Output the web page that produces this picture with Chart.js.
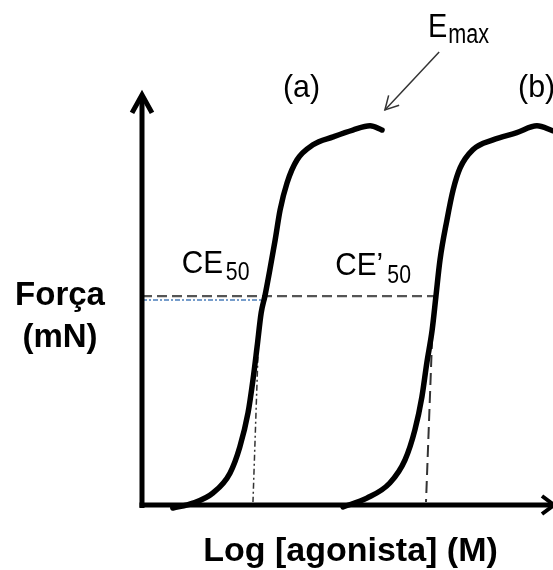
<!DOCTYPE html>
<html>
<head>
<meta charset="utf-8">
<script src="https://cdn.jsdelivr.net/npm/chart.js@4/dist/chart.umd.min.js"></script>
<style>
  html, body { margin: 0; padding: 0; background: #fff; }
  #wrap { width: 553px; height: 570px; }
</style>
</head>
<body>
<div id="wrap"><canvas id="c" width="553" height="570"></canvas></div>
<script>
// Concentration–response curves: force vs log agonist concentration.
// x = log [agonista] (arbitrary units), y = força (% of Emax).

// Curve (a): agonist alone
const curveA_x = [0.75, 1.24, 1.73, 2.14, 2.38, 2.58, 2.70, 2.80, 2.90, 2.99, 3.11, 3.24, 3.36, 3.53, 3.77, 4.16, 4.65, 5.13, 5.55, 5.84];
const curveA_y = [-0.8, 0.5, 3.2, 8.4, 15.3, 24.3, 33.0, 41.7, 50.7, 55.1, 62.0, 69.9, 77.8, 85.0, 91.0, 95.0, 97.1, 98.9, 100.0, 98.9];

// Curve (b): shifted to the right (higher concentration for the same effect)
const curveB_x = [4.89, 5.47, 6.03, 6.40, 6.64, 6.81, 6.93, 7.06, 7.15, 7.25, 7.42, 7.57, 7.74, 8.05, 8.54, 9.12, 9.61, 10.0];
const curveB_y = [-0.5, 1.8, 5.8, 11.9, 19.8, 28.5, 37.5, 46.2, 54.9, 64.6, 75.2, 83.1, 88.9, 93.7, 96.3, 98.2, 100.0, 98.7];

// Half-maximal response level and the two CE50 positions
const ce50Level = [55.1, 54.1];          // gray dashed level, short blue level
const ce50LineEnd = [7.18, 2.92];        // x where each level line stops
const ce50A_x = [2.82, 2.70];            // dash-dot drop line under (a): top, bottom
const ce50A_y = [39.1, 0.8];
const ce50B_x = [7.06, 6.91];            // dashed drop line under (b): top, bottom
const ce50B_y = [44.3, 0.8];

// Emax pointer (from label toward the plateau of curve a)
const emaxArrow_x = [7.23, 5.91];
const emaxArrow_y = [119.5, 104.2];

const X_MIN = 0, X_MAX = 10, Y_MIN = 0, Y_MAX = 133.2;
const Y_AXIS_TOP = 108.7;

const pts = (xs, ys) => xs.map((x, i) => ({ x: x, y: ys[i] }));

const datasets = [
  { data: pts(curveA_x, curveA_y), borderColor: '#000', borderWidth: 5.5, cubicInterpolationMode: 'monotone', borderCapStyle: 'round', borderJoinStyle: 'round' },
  { data: pts(curveB_x, curveB_y), borderColor: '#000', borderWidth: 5.5, cubicInterpolationMode: 'monotone', borderCapStyle: 'round', borderJoinStyle: 'round' },
  { data: [{ x: X_MIN, y: ce50Level[0] }, { x: ce50LineEnd[0], y: ce50Level[0] }], borderColor: '#555', borderWidth: 2.2, borderDash: [10, 5] },
  { data: [{ x: X_MIN, y: ce50Level[1] }, { x: ce50LineEnd[1], y: ce50Level[1] }], borderColor: '#4a7ebb', borderWidth: 1.5, borderDash: [5, 2, 2, 2] },
  { data: pts(ce50A_x, ce50A_y), borderColor: '#333', borderWidth: 1.5, borderDash: [6, 3, 2, 3] },
  { data: pts(ce50B_x, ce50B_y), borderColor: '#333', borderWidth: 2, borderDash: [12, 6] },
  { data: pts(emaxArrow_x, emaxArrow_y), borderColor: '#333', borderWidth: 1.5 }
].map(d => Object.assign({ pointRadius: 0, fill: false, clip: false, tension: 0 }, d));

// Text annotations, anchored in data units (left edge, baseline)
const notes = [
  { text: '(a)', x: 3.43, y: 107.7, size: 32, sx: 0.95 },
  { text: '(b)', x: 9.15, y: 107.7, size: 32, sx: 0.95 },
  { text: 'E', x: 6.96, y: 123.5, size: 34, sx: 0.85 },
  { text: 'max', x: 7.45, y: 121.9, size: 27, sx: 0.8 },
  { text: 'CE', x: 0.97, y: 61.2, size: 32, sx: 0.93 },
  { text: '50', x: 2.04, y: 59.4, size: 25, sx: 0.85 },
  { text: 'CE\u2019', x: 4.70, y: 60.7, size: 32, sx: 0.93 },
  { text: '50', x: 5.97, y: 58.6, size: 25, sx: 0.85 }
];

function drawText(ctx, text, x, y, size, bold, sx, align) {
  ctx.save();
  ctx.font = (bold ? 'bold ' : '') + size + 'px "Liberation Sans", Arial, sans-serif';
  ctx.textBaseline = 'alphabetic';
  ctx.fillStyle = '#000';
  let w = ctx.measureText(text).width * sx;
  let left = align === 'center' ? x - w / 2 : x;
  ctx.translate(left, y);
  ctx.scale(sx, 1);
  ctx.fillText(text, 0, 0);
  ctx.restore();
}

const decor = {
  id: 'decor',
  afterDatasetsDraw(chart) {
    const ctx = chart.ctx;
    const xs = chart.scales.x, ys = chart.scales.y;
    const ca = chart.chartArea;
    const x0 = xs.getPixelForValue(X_MIN), y0 = ys.getPixelForValue(Y_MIN);
    const yTop = ys.getPixelForValue(Y_AXIS_TOP);

    ctx.save();
    ctx.strokeStyle = '#000';
    ctx.lineWidth = 5;
    ctx.lineCap = 'butt';
    // y axis with open arrowhead
    ctx.beginPath();
    ctx.moveTo(x0, y0 + 3);
    ctx.lineTo(x0, yTop + 2);
    ctx.stroke();
    ctx.lineJoin = 'miter';
    ctx.beginPath();
    ctx.moveTo(x0 - 10, yTop + 20);
    ctx.lineTo(x0, yTop + 2);
    ctx.lineTo(x0 + 10, yTop + 20);
    ctx.stroke();
    // x axis with arrowhead at the right edge
    ctx.beginPath();
    ctx.moveTo(x0 - 2.5, y0);
    ctx.lineTo(ca.right + 3, y0);
    ctx.stroke();
    ctx.lineWidth = 4;
    ctx.beginPath();
    ctx.moveTo(ca.right - 11, y0 - 9);
    ctx.lineTo(ca.right + 1, y0);
    ctx.lineTo(ca.right - 11, y0 + 9);
    ctx.stroke();

    // Emax pointer head
    const tx = xs.getPixelForValue(emaxArrow_x[1]), ty = ys.getPixelForValue(emaxArrow_y[1]);
    const fx = xs.getPixelForValue(emaxArrow_x[0]), fy = ys.getPixelForValue(emaxArrow_y[0]);
    const ang = Math.atan2(ty - fy, tx - fx);
    const hl = 15, spread = 0.5;
    ctx.strokeStyle = '#333';
    ctx.lineWidth = 1.5;
    ctx.beginPath();
    ctx.moveTo(tx - hl * Math.cos(ang - spread), ty - hl * Math.sin(ang - spread));
    ctx.lineTo(tx, ty);
    ctx.lineTo(tx - hl * Math.cos(ang + spread), ty - hl * Math.sin(ang + spread));
    ctx.stroke();
    ctx.restore();

    // Annotations
    notes.forEach(n => drawText(ctx, n.text, xs.getPixelForValue(n.x), ys.getPixelForValue(n.y), n.size, false, n.sx, 'left'));

    // Axis titles
    const yTitleX = x0 - 82;
    drawText(ctx, 'Força', yTitleX, y0 - 200, 33, true, 1, 'center');
    drawText(ctx, '(mN)', yTitleX, y0 - 158, 33, true, 1, 'center');
    drawText(ctx, 'Log [agonista] (M)', (x0 + ca.right) / 2 + 3, y0 + 56, 34, true, 1.0, 'center');
  }
};

new Chart(document.getElementById('c'), {
  type: 'line',
  data: { datasets: datasets },
  options: {
    responsive: false,
    animation: false,
    layout: { padding: { left: 142, right: 0, top: 0, bottom: 65 } },
    scales: {
      x: { type: 'linear', min: X_MIN, max: X_MAX, display: false },
      y: { type: 'linear', min: Y_MIN, max: Y_MAX, display: false }
    },
    plugins: { legend: { display: false }, tooltip: { enabled: false } }
  },
  plugins: [decor]
});
</script>
</body>
</html>
